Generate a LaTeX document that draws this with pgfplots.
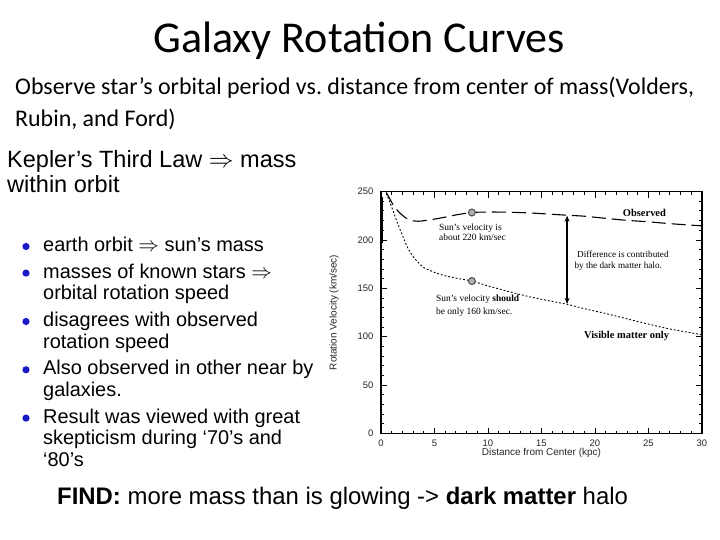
\documentclass[border=0pt]{standalone}
\usepackage{pgfplots}
\pgfplotsset{compat=1.18}
\usetikzlibrary{arrows.meta}
\usepackage{fontspec}
\setmainfont{Liberation Sans}
\newfontfamily\calibri{Carlito}
\newfontfamily\timesf{Liberation Serif}
\definecolor{bulletblue}{RGB}{25,25,200}
\definecolor{markgray}{RGB}{175,175,175}
\frenchspacing
\begin{document}
\begin{tikzpicture}[x=1bp,y=1bp]
\useasboundingbox (0,0) rectangle (720,540);
\fill[white] (0,0) rectangle (720,540);

% slide title and subtitle
\node[anchor=base, inner sep=0] at (359,487) {\fontsize{44.2}{52}\selectfont\calibri Galaxy Rotation Curves};
\node[anchor=base west, inner sep=0] at (15,445) {\fontsize{24}{28}\selectfont\calibri Observe star’s orbital period vs. distance from center of mass(Volders,};
\node[anchor=base west, inner sep=0] at (15,413) {\fontsize{24}{28}\selectfont\calibri Rubin, and Ford)};

% left text
\node[anchor=base west, inner sep=0] at (7,372) {\fontsize{23.6}{27}\selectfont Kepler’s Third Law $\Rightarrow$ mass};
\node[anchor=base west, inner sep=0] at (7,347) {\fontsize{23.6}{27}\selectfont within orbit};

\foreach \yy in {288.3,261.7,213.3,165,116.7} {\fill[bulletblue] (26,\yy+5.2) circle (3.6);}
\foreach \yy/\txt in {288.3/{earth orbit $\Rightarrow$ sun’s mass},
  261.7/{masses of known stars $\Rightarrow$},
  240/{orbital rotation speed},
  213.3/{disagrees with observed},
  191.7/{rotation speed},
  165/{Also observed in other near by},
  143.3/{galaxies.},
  116.7/{Result was viewed with great},
  95/{skepticism during ‘70’s and},
  73.3/{‘80’s}} {
  \node[anchor=base west, inner sep=0] at (43,\yy) {\fontsize{20}{24}\selectfont \txt};
}

\node[anchor=base west, inner sep=0] at (57,35) {\fontsize{24}{28}\selectfont \textbf{FIND:} more mass than is glowing -> \textbf{dark matter} halo};

\begin{axis}[
  at={(356,110)}, anchor=south west,
  scale only axis, width=321bp, height=242bp,
  xmin=0, xmax=30, ymin=0, ymax=250,
  xtick={0,5,...,30}, ytick={0,50,...,250},
  minor x tick num=4, minor y tick num=4,
  xtick pos=both, ytick pos=both,
  xticklabel pos=bottom, yticklabel pos=left,
  tick align=inside,
  major tick length=6bp, minor tick length=3bp,
  every tick/.style={black, line width=0.8bp},
  axis line style={black, line width=1.3bp},
  /pgf/number format/assume math mode=true,
  ticklabel style={font=\fontsize{9.5}{10}\selectfont, text=black!85},
  x tick label style={yshift=-3bp},
  y tick label style={xshift=-4bp},
  xlabel={Distance from Center (kpc)},
  ylabel={Rotation Velocity (km/sec)},
  label style={font=\fontsize{10}{11}\selectfont, text=black!85},
  xlabel style={at={(axis description cs:0.5,-0.0785)}, anchor=center},
  ylabel style={at={(axis description cs:-0.1464,0.5)}, anchor=center},
  clip=false,
]
% observed curve
\addplot[black, line width=1.1bp, dash pattern=on 14bp off 6bp, smooth] coordinates {
(0.5,249) (0.8,243) (1.1,237) (1.5,231) (2,225.5) (2.5,221.5) (3,219.8) (3.5,219.3)
(4,219.8) (5,221.5) (6,223.5) (7,225.8) (8.5,228.3) (10,228.8) (12,228.6) (14,227.8)
(15.5,226.8) (17.4,225.5) (19,224.5) (21,222.3) (23,220.2) (25,218.7) (27,216.8) (30,214.5)};
\addplot[black, line width=1.5bp] coordinates {(0.1,197) (0.1,244)};
% visible matter only
\addplot[black, line width=0.9bp, dash pattern=on 1.8bp off 2bp, smooth] coordinates {
(0.5,248) (0.8,240) (1.1,231) (1.5,219) (2,205) (2.5,192) (3,183) (3.5,176.5) (4,171.5)
(5,166.5) (6,163) (7,160.5) (8.5,157.5) (10,152.5) (12,146.5) (14,141) (16,136.5)
(17.4,133.5) (19,129) (21,124) (23,118.5) (25,113) (27,108) (28.5,105) (30,102)};
% sun markers
\addplot[only marks, mark=*, mark size=3.5bp, mark options={fill=markgray, draw=black!70, line width=1bp}] coordinates {(8.5,228.3) (8.5,157.5)};
% difference arrow
\addplot[black, line width=2bp, {Stealth[length=6bp,width=5bp]}-{Stealth[length=6bp,width=5bp]}] coordinates {(17.4,134) (17.4,225)};

% annotations
\node[anchor=base west, inner sep=0, font=\timesf\fontsize{9.5}{11}\selectfont] at (axis cs:5.42,210.2) {Sun’s velocity is};
\node[anchor=base west, inner sep=0, font=\timesf\fontsize{9.5}{11}\selectfont] at (axis cs:5.42,199.9) {about 220 km/sec};
\node[anchor=base west, inner sep=0, font=\timesf\fontsize{9.5}{11}\selectfont] at (axis cs:5.14,136.4) {Sun’s velocity \textbf{should}};
\node[anchor=base west, inner sep=0, font=\timesf\fontsize{9.5}{11}\selectfont] at (axis cs:5.14,122.6) {be only 160 km/sec.};
\node[anchor=base west, inner sep=0, font=\timesf\fontsize{9.2}{11}\selectfont] at (axis cs:18.32,181.8) {Difference is contributed};
\node[anchor=base west, inner sep=0, font=\timesf\fontsize{9.2}{11}\selectfont] at (axis cs:18.08,170.9) {by the dark matter halo.};
\node[anchor=base west, inner sep=0, font=\timesf\bfseries\fontsize{10.5}{11}\selectfont] at (axis cs:22.6,223.7) {Observed};
\node[anchor=base west, inner sep=0, font=\timesf\bfseries\fontsize{10.5}{11}\selectfont] at (axis cs:18.97,98.1) {Visible matter only};
\end{axis}
\end{tikzpicture}
\end{document}
